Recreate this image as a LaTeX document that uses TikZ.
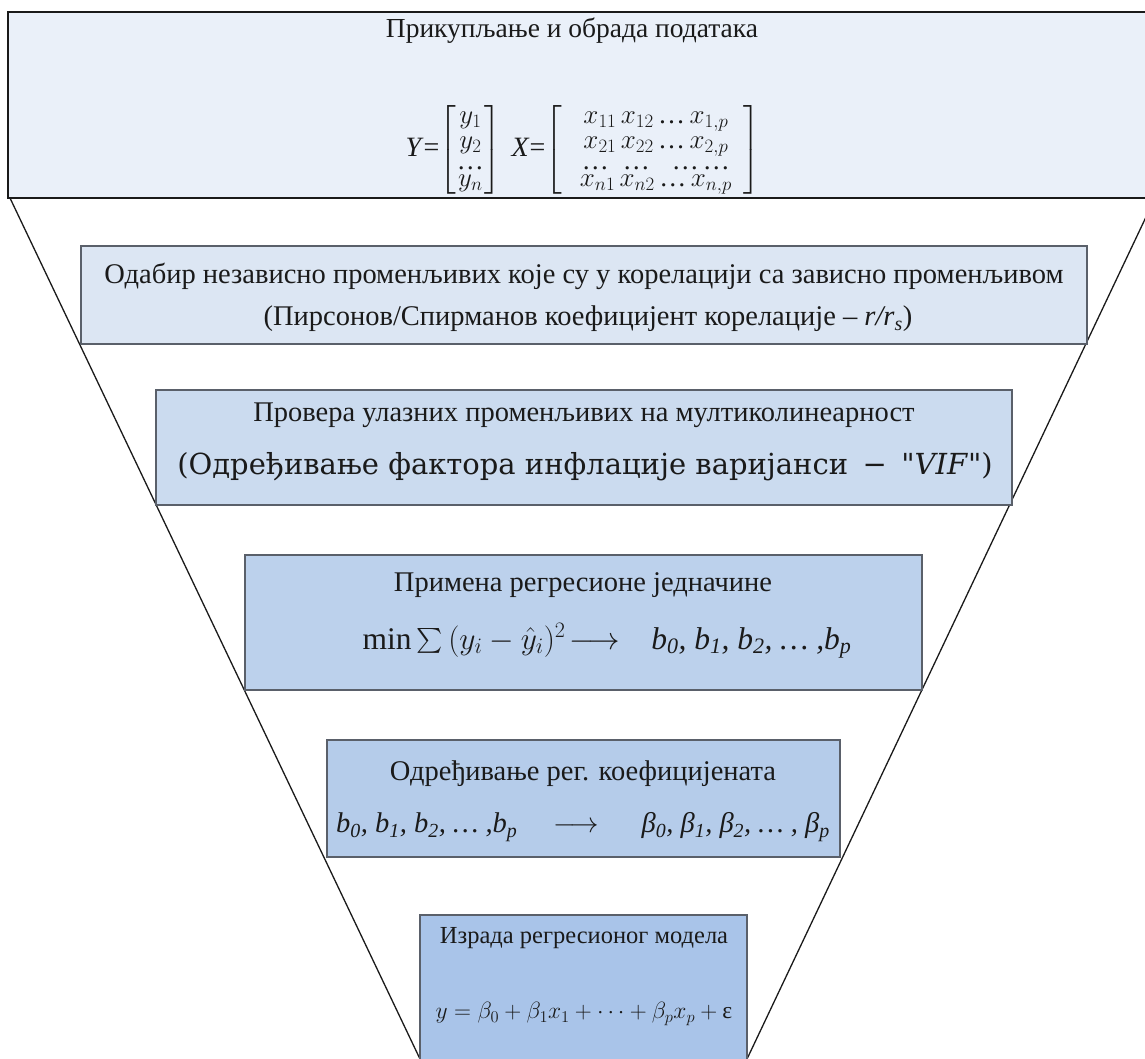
\RequirePackage{fix-cm}
\documentclass[tikz,border=0pt]{standalone}
\usepackage{amsmath}
\usepackage{fontspec}
\setmainfont{Liberation Serif}
\newfontfamily\formfont{DejaVu Serif}

\definecolor{fillA}{HTML}{EAF0F9}
\definecolor{fillB}{HTML}{DCE6F3}
\definecolor{fillC}{HTML}{CBDBEF}
\definecolor{fillD}{HTML}{BCD1EC}
\definecolor{fillE}{HTML}{B5CCEA}
\definecolor{fillF}{HTML}{A9C4E9}
\definecolor{edgegray}{HTML}{5A606A}
\definecolor{ink}{HTML}{1A1A1A}

\newcommand{\dts}{\text{…}}

\begin{document}
\begin{tikzpicture}[x=1pt,y=-1pt,
  headbox/.style={draw=ink, line width=2.6pt, fill=fillA, anchor=north west,
    inner sep=0pt, outer sep=0pt},
  stage/.style={draw=edgegray, line width=1.4pt, anchor=north west,
    inner sep=0pt, outer sep=0pt},
  funnel/.style={draw=ink, line width=1.3pt},
  txt/.style={inner sep=0pt, text=ink, anchor=center},
  big/.style={font=\fontsize{28.5}{33}\selectfont},
  small/.style={font=\fontsize{24.5}{29}\selectfont}]

\useasboundingbox (0,0) rectangle (1145,1059);
\clip (0,0) rectangle (1145,1059);

% funnel outline
\coordinate (fl) at (10,198);
\coordinate (flb) at (420,1059);
\coordinate (fr) at (1155,198);
\coordinate (frb) at (747,1059);
\draw[funnel] (fl) -- (flb);
\draw[funnel] (fr) -- (frb);

% header: data collection
\node[headbox, minimum width=1160pt, minimum height=186pt] (head) at (8,12) {};
\node[txt, font=\fontsize{27.5}{32}\selectfont] (headtitle) at (572,31) {Прикупљање и обрада података};
\node[txt, font=\fontsize{28}{25}\selectfont] (data) at (583,150) {%
  \textit{Y}=\fontsize{27}{25}\selectfont
  $\left[\begin{array}{@{\hspace{1pt}}c@{\hspace{1pt}}} y_1\\ y_2\\[-4pt] \dts\\[-8pt] y_n\end{array}\right]$\hspace{10pt}%
  {\fontsize{28}{25}\selectfont\textit{X}=}%
  $\left[\begin{array}{@{\hspace{18pt}}c@{\hspace{12pt}}}
     x_{11}\,x_{12}\,\dts\,x_{1,p}\\
     x_{21}\,x_{22}\,\dts\,x_{2,p}\\[-4pt]
     \dts\hspace{14pt}\dts\hspace{22pt}\dts\hspace{4pt}\dts\\[-8pt]
     x_{n1}\,x_{n2}\,\dts\,x_{n,p}\end{array}\right]$};

% stage 1: correlation
\node[stage, fill=fillB, minimum width=1006pt, minimum height=98pt] (s1) at (81,246) {};
\node[txt, big] (s1a) at (584,276) {Одабир независно променљивих које су у корелацији са зависно променљивом};
\node[txt, big] (s1b) at (588,319) {(Пирсонов/Спирманов коефицијент корелације – \textit{r/r}\textsubscript{\textit{s}})};

% stage 2: multicollinearity
\node[stage, fill=fillC, minimum width=856pt, minimum height=115pt] (s2) at (156,390) {};
\node[txt, big] (s2a) at (584,415) {Провера улазних променљивих на мултиколинеарност};
\node[txt] (s2b) at (585,467) {\formfont\fontsize{29}{33}\selectfont (Одређивање фактора инфлације варијанси\enspace −\enspace "\textit{VIF}")};

% stage 3: regression equation
\node[stage, fill=fillD, minimum width=677pt, minimum height=135pt] (s3) at (245,555) {};
\node[txt, big] (s3a) at (583,585) {Примена регресионе једначине};
\node[txt, font=\fontsize{31.5}{35}\selectfont] (s3b) at (607,641) {$\min\sum\,(y_i-\hat y_i)^2\!\longrightarrow$\quad \textit{b\textsubscript{0}, b\textsubscript{1}, b\textsubscript{2}, … ,b\textsubscript{p}}};

% stage 4: coefficients
\node[stage, fill=fillE, minimum width=513pt, minimum height=117pt] (s4) at (327,740) {};
\node[txt, big] (s4a) at (583,774) {Одређивање рег. коефицијената};
\node[txt, big] (s4b) at (583,827) {\textit{b\textsubscript{0}, b\textsubscript{1}, b\textsubscript{2}, … ,b\textsubscript{p}}\quad\ $\longrightarrow$\quad\ \ \textit{β\textsubscript{0}, β\textsubscript{1}, β\textsubscript{2}, … , β\textsubscript{p}}};

% stage 5: model
\node[stage, fill=fillF, minimum width=327pt, minimum height=160pt] (s5) at (420,915) {};
\node[txt, small] (s5a) at (584,938) {Израда регресионог модела};
\node[txt, font=\fontsize{23.5}{28}\selectfont] (s5b) at (584,1014) {$y=\beta_0+\beta_1x_1+\cdots+\beta_px_p+\text{ε}$};

\end{tikzpicture}
\end{document}
